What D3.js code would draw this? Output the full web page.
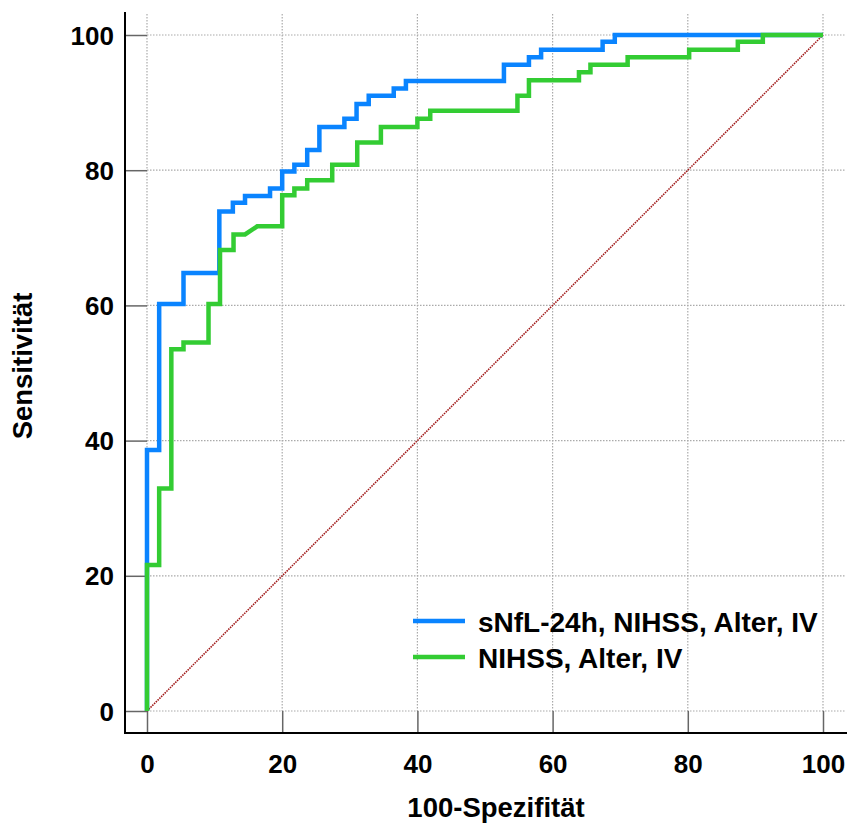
<!DOCTYPE html>
<html>
<head>
<meta charset="utf-8">
<script src="https://cdn.jsdelivr.net/npm/d3@7"></script>
<style>
  body { margin: 0; background: #fff; }
  text { font-family: "Liberation Sans", Arial, sans-serif; font-weight: bold; fill: #000; }
</style>
</head>
<body>
<div id="graph"></div>
<script>
// ROC corners (100-Spezifitaet, Sensitivitaet)
var blueFpr = [0, 0, 1.8, 1.8, 5.4, 5.4, 10.7, 10.7, 12.7, 12.7, 14.5, 14.5, 18.2, 18.2, 20.0, 20.0, 21.8, 21.8, 23.7, 23.7, 25.5, 25.5, 29.2, 29.2, 31.0, 31.0, 32.8, 32.8, 36.5, 36.5, 38.3, 38.3, 52.8, 52.8, 56.5, 56.5, 58.3, 58.3, 67.4, 67.4, 69.2, 69.2, 100]
var blueTpr = [0, 38.6, 38.6, 60.2, 60.2, 64.8, 64.8, 73.9, 73.9, 75.2, 75.2, 76.2, 76.2, 77.3, 77.3, 79.8, 79.8, 80.8, 80.8, 83.0, 83.0, 86.4, 86.4, 87.6, 87.6, 89.8, 89.8, 91.0, 91.0, 92.1, 92.1, 93.2, 93.2, 95.6, 95.6, 96.7, 96.7, 97.8, 97.8, 99.0, 99.0, 100, 100]

var greenFpr = [0, 0, 1.8, 1.8, 3.6, 3.6, 5.4, 5.4, 9.1, 9.1, 10.8, 10.8, 12.8, 12.8, 14.5, 16.3, 20.0, 20.0, 21.8, 21.8, 23.7, 23.7, 27.4, 27.4, 31.1, 31.1, 34.6, 34.6, 40.0, 40.0, 41.9, 41.9, 54.8, 54.8, 56.5, 56.5, 63.9, 63.9, 65.6, 65.6, 71.1, 71.1, 80.2, 80.2, 87.4, 87.4, 91.1, 91.1, 100]
var greenTpr = [0, 21.6, 21.6, 32.9, 32.9, 53.5, 53.5, 54.5, 54.5, 60.2, 60.2, 68.2, 68.2, 70.5, 70.5, 71.7, 71.7, 76.3, 76.3, 77.3, 77.3, 78.5, 78.5, 80.8, 80.8, 84.1, 84.1, 86.4, 86.4, 87.6, 87.6, 88.8, 88.8, 91.0, 91.0, 93.3, 93.3, 94.5, 94.5, 95.6, 95.6, 96.7, 96.7, 97.8, 97.8, 99.0, 99.0, 100, 100]

var ticks = [0, 20, 40, 60, 80, 100]
var seriesNames = ["sNfL-24h, NIHSS, Alter, IV", "NIHSS, Alter, IV"]
var seriesColors = ["#0a84ff", "#33cc33"]

const width = 849
const height = 823

const svg = d3.select("#graph")
    .append("svg")
        .attr("width", width)
        .attr("height", height)

const x = d3.scaleLinear().domain([0, 100]).range([147, 823])
const y = d3.scaleLinear().domain([0, 100]).range([711, 35])

const axisX = 125   // y axis line position
const axisY = 733   // x axis line position

// grid (dotted)
svg.append("g")
    .selectAll("line")
    .data(ticks)
    .enter().append("line")
        .attr("x1", d => x(d)).attr("x2", d => x(d))
        .attr("y1", 14).attr("y2", y(0))
        .attr("stroke", "#aaa").attr("stroke-width", 1.2)
        .attr("stroke-dasharray", "1.5,1.5")

svg.append("g")
    .selectAll("line")
    .data(ticks)
    .enter().append("line")
        .attr("x1", x(0)).attr("x2", 846)
        .attr("y1", d => y(d)).attr("y2", d => y(d))
        .attr("stroke", "#aaa").attr("stroke-width", 1.2)
        .attr("stroke-dasharray", "1.5,1.5")

// axes: lines offset from the data area, ticks fill the gap
const xAxis = d3.axisBottom(x).tickValues(ticks).tickSize(0).tickPadding(0)
const gx = svg.append("g")
    .attr("transform", `translate(0, ${axisY})`)
    .call(xAxis)
gx.select(".domain").remove()
gx.selectAll(".tick text")
    .attr("y", 40)
    .attr("dy", 0)
    .style("font-size", "26px")
gx.selectAll(".tick").append("line")
    .attr("y1", 0).attr("y2", y(0) - axisY)
    .attr("stroke", "#666").attr("stroke-width", 1.5)

const yAxis = d3.axisLeft(y).tickValues(ticks).tickSize(0).tickPadding(0)
const gy = svg.append("g")
    .attr("transform", `translate(${axisX}, 0)`)
    .call(yAxis)
gy.select(".domain").remove()
gy.selectAll(".tick text")
    .attr("x", -11)
    .attr("dy", "0.35em")
    .style("font-size", "26px")
gy.selectAll(".tick").append("line")
    .attr("x1", 0).attr("x2", x(0) - axisX)
    .attr("stroke", "#666").attr("stroke-width", 1.5)

svg.append("line")
    .attr("x1", axisX).attr("x2", axisX)
    .attr("y1", 12).attr("y2", axisY + 1)
    .attr("stroke", "#000").attr("stroke-width", 2)
svg.append("line")
    .attr("x1", axisX - 1).attr("x2", 847)
    .attr("y1", axisY).attr("y2", axisY)
    .attr("stroke", "#000").attr("stroke-width", 2)

// titles
svg.append("text")
    .attr("x", 496).attr("y", 817)
    .attr("text-anchor", "middle")
    .style("font-size", "27.5px")
    .text("100-Spezifität")

svg.append("text")
    .attr("transform", "translate(32, 366) rotate(-90)")
    .attr("text-anchor", "middle")
    .style("font-size", "27.5px")
    .text("Sensitivität")

// chance diagonal
const line = d3.line().x(d => x(d[0])).y(d => y(d[1]))
svg.append("path")
    .datum([[0, 0], [100, 100]])
    .attr("fill", "none")
    .attr("stroke", "#a01818")
    .attr("stroke-width", 1.6)
    .attr("stroke-dasharray", "1.5,1")
    .attr("d", line)

// ROC curves (green drawn last, it sits on top where they overlap)
const green = greenFpr.map((d, i) => [d, greenTpr[i]])
const blue = blueFpr.map((d, i) => [d, blueTpr[i]])

svg.append("path")
    .datum(blue)
    .attr("fill", "none")
    .attr("stroke", seriesColors[0])
    .attr("stroke-width", 4.5)
    .attr("d", line)

svg.append("path")
    .datum(green)
    .attr("fill", "none")
    .attr("stroke", seriesColors[1])
    .attr("stroke-width", 4.5)
    .attr("d", line)

// legend
const legend = svg.append("g")
    .selectAll("g")
    .data(seriesNames)
    .enter().append("g")
        .attr("transform", (d, i) => `translate(413, ${621 + i * 36})`)

legend.append("line")
    .attr("x1", 0).attr("x2", 52)
    .attr("stroke", (d, i) => seriesColors[i])
    .attr("stroke-width", 4.5)

legend.append("text")
    .attr("x", 65)
    .attr("y", 11)
    .style("font-size", "28px")
    .text(d => d)
</script>
</body>
</html>
